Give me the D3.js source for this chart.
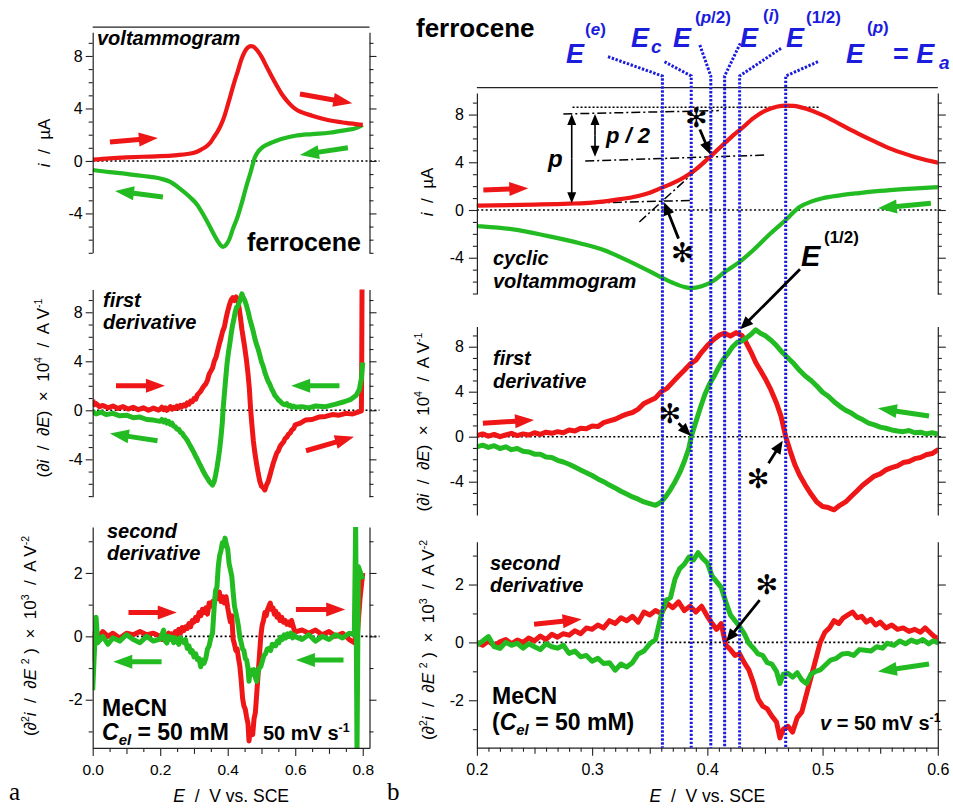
<!DOCTYPE html>
<html>
<head>
<meta charset="utf-8">
<script src="https://cdn.jsdelivr.net/npm/d3@7"></script>
<style>
  body { margin: 0; background: #fff; }
  svg { display: block; font-family: "Liberation Sans", Arial, sans-serif; }
  text { white-space: pre; }
</style>
</head>
<body>
<svg id="fig" width="953" height="808"></svg>
<script>
// ---------------- data ----------------
// cyclic voltammogram of ferrocene, forward (oxidation) scan, E / V vs. SCE and i / µA
const cvRedE = [0, 0.05, 0.1, 0.15, 0.2, 0.25, 0.28, 0.3, 0.32, 0.34, 0.35, 0.36, 0.37, 0.38, 0.39, 0.4, 0.41, 0.42, 0.43, 0.44, 0.45, 0.46, 0.468, 0.475, 0.485, 0.5, 0.515, 0.53, 0.545, 0.56, 0.58, 0.6, 0.62, 0.65, 0.7, 0.75, 0.8];
const cvRedI = [0.1, 0.2, 0.27, 0.32, 0.36, 0.45, 0.53, 0.62, 0.85, 1.18, 1.45, 1.85, 2.25, 2.75, 3.4, 4.25, 5.15, 6.05, 6.85, 7.7, 8.3, 8.65, 8.75, 8.72, 8.5, 7.95, 7.2, 6.45, 5.75, 5.1, 4.45, 3.97, 3.7, 3.45, 3.1, 2.9, 2.75];
// reverse (reduction) scan
const cvGreenE = [0, 0.05, 0.1, 0.15, 0.2, 0.23, 0.26, 0.29, 0.31, 0.33, 0.35, 0.36, 0.37, 0.38, 0.386, 0.395, 0.405, 0.415, 0.428, 0.44, 0.455, 0.468, 0.48, 0.49, 0.5, 0.515, 0.53, 0.55, 0.57, 0.6, 0.65, 0.7, 0.75, 0.78, 0.8];
const cvGreenI = [-0.69, -0.85, -0.98, -1.15, -1.34, -1.6, -2.15, -2.8, -3.35, -4.2, -5.15, -5.65, -6.1, -6.45, -6.55, -6.4, -5.95, -5.2, -4.35, -3.35, -1.95, -0.84, 0.25, 0.7, 0.98, 1.22, 1.4, 1.6, 1.75, 1.92, 2.05, 2.15, 2.35, 2.5, 2.75];

// first derivative, ×10^4 A/V (forward scan)
const d1RedE = [0, 0.004, 0.01, 0.02, 0.03, 0.045, 0.06, 0.075, 0.09, 0.105, 0.12, 0.135, 0.15, 0.165, 0.18, 0.195,
  0.2, 0.205, 0.21, 0.215, 0.22, 0.225, 0.23, 0.235, 0.24, 0.245, 0.25, 0.255, 0.26, 0.265, 0.27, 0.275, 0.28, 0.285, 0.29, 0.295,
  0.3, 0.305, 0.31, 0.315, 0.32, 0.325, 0.33, 0.335, 0.34, 0.345, 0.35, 0.355, 0.36, 0.365, 0.37, 0.375, 0.38, 0.385, 0.39, 0.395,
  0.4, 0.405, 0.41, 0.415, 0.42, 0.425, 0.43, 0.434, 0.438, 0.442, 0.446, 0.45, 0.455, 0.46, 0.464, 0.468, 0.472, 0.476, 0.48, 0.485, 0.49, 0.495,
  0.5, 0.505, 0.51, 0.515, 0.52, 0.525, 0.53, 0.535, 0.54, 0.545, 0.55, 0.555, 0.56, 0.565, 0.57, 0.575, 0.58, 0.585, 0.59, 0.595,
  0.6, 0.615, 0.63, 0.65, 0.67, 0.69, 0.71, 0.73, 0.75, 0.77, 0.79, 0.796, 0.797, 0.798];
const d1Red = [0.85, 0.45, 0.55, 0.3, 0.4, 0.2, 0.35, 0.15, 0.3, 0.1, 0.25, 0.05, 0.2, 0.0, 0.18, 0.02,
  0.1, 0.25, 0.05, 0.2, 0.0, 0.15, 0.3, 0.1, 0.25, 0.15, 0.35, 0.2, 0.4, 0.3, 0.45, 0.35, 0.6, 0.5, 0.75, 0.7,
  0.95, 0.9, 1.25, 1.4, 1.55, 1.8, 2.0, 2.15, 2.45, 2.95, 3.2, 3.45, 4.0, 4.3, 4.85, 5.4, 5.9, 6.45, 6.8, 7.5,
  8.1, 8.6, 9.0, 9.2, 8.95, 9.25, 9.0, 8.3, 7.5, 6.6, 5.9, 5.2, 4.2, 3.0, 1.8, 0.0, -1.3, -2.5, -3.4, -4.3, -5.1, -5.8,
  -6.2, -6.3, -6.5, -6.1, -5.8, -5.3, -4.8, -4.3, -3.9, -3.5, -3.3, -2.95, -2.75, -2.6, -2.3, -2.2, -1.95, -1.85, -1.6, -1.5,
  -1.18, -1.05, -0.8, -0.75, -0.55, -0.5, -0.35, -0.4, -0.25, -0.3, -0.1, -0.05, 4.0, 11.0];
// first derivative, reverse scan
const d1GreenE = [0, 0.01, 0.025, 0.04, 0.06, 0.08, 0.1, 0.12, 0.14, 0.16, 0.18,
  0.2, 0.205, 0.21, 0.215, 0.22, 0.225, 0.23, 0.235, 0.24, 0.245, 0.25, 0.255, 0.26, 0.265, 0.27, 0.275, 0.28, 0.285, 0.29, 0.295,
  0.3, 0.305, 0.31, 0.315, 0.32, 0.325, 0.33, 0.335, 0.34, 0.345, 0.35, 0.355, 0.36, 0.364, 0.368, 0.372, 0.376, 0.38, 0.384, 0.386,
  0.39, 0.394, 0.398, 0.402, 0.406, 0.41, 0.414, 0.418, 0.422, 0.426, 0.43, 0.434, 0.438, 0.442, 0.446, 0.45, 0.455, 0.46, 0.465, 0.47,
  0.475, 0.48, 0.485, 0.49, 0.495, 0.5, 0.505, 0.51, 0.515, 0.52, 0.525, 0.53, 0.535, 0.54, 0.545, 0.55, 0.555, 0.56, 0.565, 0.57,
  0.575, 0.58, 0.585, 0.59, 0.595, 0.6, 0.62, 0.64, 0.66, 0.69, 0.72, 0.745, 0.765, 0.78, 0.79, 0.796, 0.8];
const d1Green = [-0.1, -0.3, -0.15, -0.35, -0.25, -0.45, -0.4, -0.6, -0.55, -0.75, -0.8,
  -0.9, -0.75, -0.95, -0.8, -1.05, -0.9, -1.15, -1.05, -1.3, -1.35, -1.55, -1.55, -1.8, -1.85, -2.1, -2.25, -2.45, -2.7, -2.95, -3.2,
  -3.45, -3.75, -4.0, -4.3, -4.55, -4.85, -5.1, -5.35, -5.55, -5.8, -5.95, -6.1, -5.8, -5.3, -4.7, -4.0, -3.2, -2.2, -1.0, 0.0,
  1.3, 2.6, 3.8, 4.7, 5.4, 6.2, 6.9, 7.4, 8.0, 8.4, 8.5, 8.8, 9.1, 9.5, 9.2, 9.0, 8.6, 8.1, 7.5, 7.0,
  6.5, 5.9, 5.4, 5.0, 4.5, 3.95, 3.6, 3.1, 2.7, 2.35, 2.1, 1.75, 1.5, 1.2, 1.05, 0.85, 0.75, 0.6, 0.5, 0.45,
  0.55, 0.35, 0.4, 0.25, 0.35, 0.25, 0.3, 0.2, 0.35, 0.3, 0.5, 0.7, 0.9, 1.2, 1.7, 2.6, 3.9];

// second derivative, ×10^3 A/V^2 (forward scan)
const d2RedE = [0, 0.004, 0.015, 0.03, 0.045, 0.06, 0.08, 0.1, 0.12, 0.14, 0.16, 0.18,
  0.2, 0.205, 0.21, 0.215, 0.22, 0.225, 0.23, 0.235, 0.24, 0.245, 0.25, 0.255, 0.26, 0.265, 0.27, 0.275, 0.28, 0.285, 0.29, 0.295,
  0.3, 0.305, 0.31, 0.315, 0.32, 0.325, 0.33, 0.335, 0.34, 0.345, 0.35, 0.355, 0.36, 0.365, 0.37, 0.375, 0.38, 0.385, 0.39, 0.395,
  0.4, 0.404, 0.408, 0.412, 0.416, 0.42, 0.424, 0.428, 0.432, 0.436, 0.44, 0.444, 0.448, 0.452, 0.456, 0.46, 0.463, 0.466, 0.47, 0.474,
  0.478, 0.482, 0.486, 0.49, 0.494, 0.498, 0.502, 0.506, 0.51, 0.514, 0.518, 0.522, 0.526, 0.53, 0.534, 0.538, 0.542, 0.546, 0.55,
  0.555, 0.56, 0.565, 0.57, 0.575, 0.58, 0.585, 0.589, 0.593, 0.597,
  0.6, 0.62, 0.64, 0.66, 0.68, 0.7, 0.72, 0.74, 0.76, 0.775, 0.785, 0.792, 0.8];
const d2Red = [-0.8, 0.1, -0.05, 0.15, 0.0, 0.1, -0.05, 0.1, 0.05, 0.15, 0.05, 0.1,
  0.0, -0.1, 0.05, -0.12, 0.02, 0.1, -0.05, 0.08, 0.0, 0.15, 0.05, 0.22, 0.1, 0.28, 0.18, 0.3, 0.25, 0.4, 0.3, 0.5,
  0.45, 0.6, 0.5, 0.75, 0.65, 0.85, 0.75, 0.9, 0.7, 1.05, 0.95, 1.1, 1.0, 1.35, 1.2, 1.4, 1.1, 1.25, 1.05, 1.25,
  0.9, 0.66, 0.45, 0.65, -0.09, -0.25, -0.45, -0.4, -0.7, -0.95, -1.4, -1.95, -2.2, -2.3, -2.55, -2.75, -3.3, -3.0, -2.9, -3.1,
  -2.6, -2.4, -1.8, -1.2, -0.6, 0.0, 0.35, 0.5, 0.75, 0.65, 0.85, 0.95, 1.05, 0.85, 0.9, 0.7, 0.8, 0.6, 0.7,
  0.5, 0.6, 0.45, 0.5, 0.38, 0.45, 0.35, 0.5, 0.35, 0.2,
  0.14, 0.2, 0.1, 0.2, 0.05, 0.15, 0.0, 0.1, -0.1, -0.2, 0.2, 1.2, 2.0];
// second derivative, reverse scan
const d2GreenE = [0, 0.005, 0.01, 0.015, 0.03, 0.045, 0.06, 0.08, 0.1, 0.12, 0.14, 0.16, 0.18,
  0.2, 0.205, 0.21, 0.215, 0.22, 0.225, 0.23, 0.235, 0.24, 0.245, 0.25, 0.255, 0.26, 0.265, 0.27, 0.275, 0.28, 0.285, 0.29, 0.295,
  0.3, 0.305, 0.31, 0.315, 0.32, 0.325, 0.33, 0.335, 0.34, 0.345, 0.35, 0.355, 0.36, 0.364, 0.368, 0.372, 0.376, 0.38, 0.384, 0.388,
  0.392, 0.396, 0.4, 0.404, 0.408, 0.412, 0.416, 0.42, 0.424, 0.428, 0.432, 0.436, 0.44, 0.444, 0.448, 0.452, 0.456, 0.46, 0.463, 0.466,
  0.47, 0.474, 0.478, 0.482, 0.486, 0.49, 0.494, 0.498, 0.502, 0.507, 0.512, 0.517, 0.522, 0.527, 0.532, 0.537, 0.542, 0.547, 0.552,
  0.556, 0.562, 0.567, 0.572, 0.577, 0.582, 0.587, 0.592, 0.596,
  0.6, 0.62, 0.64, 0.66, 0.68, 0.7, 0.72, 0.74, 0.76, 0.775, 0.779, 0.783, 0.787, 0.8];
const d2Green = [-1.7, -0.5, 0.6, -0.2, 0.0, -0.25, -0.05, -0.15, 0.05, -0.1, -0.2, 0.0, -0.15,
  -0.09, 0.05, 0.2, -0.15, -0.21, 0.0, -0.1, -0.03, -0.2, -0.05, -0.15, -0.25, -0.05, -0.15, -0.2, -0.1, -0.38, -0.3, -0.5, -0.45,
  -0.65, -0.55, -0.73, -0.7, -0.96, -0.75, -0.85, -0.7, -0.4, -0.3, -0.05, 0.1, 0.95, 1.45, 1.55, 2.2, 2.55, 2.7, 2.95, 2.85,
  3.1, 2.9, 2.75, 2.3, 2.1, 1.9, 1.4, 0.95, 0.75, 0.55, 0.3, -0.03, -0.2, -0.4, -0.45, -0.7, -0.75, -1.0, -1.42, -1.1,
  -1.07, -1.2, -1.05, -1.3, -1.42, -1.1, -1.0, -0.95, -0.8, -0.61, -0.55, -0.4, -0.38, -0.45, -0.25, -0.27, -0.3, -0.15, -0.2,
  -0.03, -0.1, 0.05, -0.05, 0.08, 0.0, 0.1, -0.05, 0.05,
  -0.01, -0.1, 0.05, -0.15, 0.0, -0.1, 0.05, -0.05, 0.1, 0.05, 3.6, -3.7, 2.2, 1.8];

// characteristic potentials marked in panel b
const markerE = [0.361, 0.386, 0.403, 0.415, 0.428, 0.468];

// tick labels
const xTickLabelsA = [0, 0.2, 0.4, 0.6, 0.8];
const xTickLabelsB = [0.2, 0.3, 0.4, 0.5, 0.6];
const yTickLabelsCurrent = [-4, 0, 4, 8];
const yTickLabelsFirst = [-4, 0, 4, 8];
const yTickLabelsSecond = [-2, 0, 2];

// ---------------- scales ----------------
const RED = "#ee1616", GREEN = "#22bb22", BLUE = "#1c1cdc", INK = "#000";
const xA = d3.scaleLinear([0, 0.82], [92.7, 369.5]);
const xB = d3.scaleLinear([0.2, 0.6], [476.9, 937.8]);

const plots = {
  a1: { x: xA, y: d3.scaleLinear([-7, 10.2], [252.8, 27.1]), axisTop: 9.8, minor: d3.range(-7, 10), major: yTickLabelsCurrent, tl: 7, pad: 3, fs: 16 },
  a2: { x: xA, y: d3.scaleLinear([-7.05, 9.85], [496.7, 289.6]), axisTop: 9.85, minor: d3.range(-7, 10), major: yTickLabelsFirst, tl: 7, pad: 3, fs: 16 },
  a3: { x: xA, y: d3.scaleLinear([-3.52, 3.45], [747.9, 527]), axisTop: 3.45, minor: d3.range(-3, 4), major: yTickLabelsSecond, tl: 7, pad: 3, fs: 16 },
  b1: { x: xB, y: d3.scaleLinear([-7.04, 10.25], [294, 87.7]), axisTop: 9.8, minor: d3.range(-7, 10), major: yTickLabelsCurrent, tl: 8, pad: 5, fs: 16 },
  b2: { x: xB, y: d3.scaleLinear([-6.96, 9.8], [515, 326.45]), axisTop: 9.8, minor: d3.range(-6, 10), major: yTickLabelsFirst, tl: 8, pad: 5, fs: 16 },
  b3: { x: xB, y: d3.scaleLinear([-3.64, 3.48], [747.7, 541.7]), axisTop: 3.48, minor: d3.range(-3, 4), major: yTickLabelsSecond, tl: 8, pad: 5, fs: 16 }
};

const svg = d3.select("#fig");
const defs = svg.append("defs");
const gZero = svg.append("g");
const gAnnoBack = svg.append("g");
const gCurves = svg.append("g");
const gAxes = svg.append("g");
const gMarkers = svg.append("g");
const gText = svg.append("g");

Object.entries(plots).forEach(([k, p]) => {
  const [x0, x1] = p.x.range(), [yb, yt] = p.y.range();
  defs.append("clipPath").attr("id", "clip-" + k).append("rect")
    .attr("x", x0).attr("y", yt).attr("width", x1 - x0).attr("height", yb - yt);
});

// ---------------- helpers ----------------
const pairs = (E, V) => E.map((e, i) => [e, V[i]]);

function curve(k, E, V, color, width, interp) {
  const p = plots[k];
  const line = d3.line().x(d => p.x(d[0])).y(d => p.y(d[1])).curve(interp || d3.curveLinear);
  gCurves.append("path").attr("d", line(pairs(E, V)))
    .attr("clip-path", `url(#clip-${k})`)
    .attr("fill", "none").attr("stroke", color).attr("stroke-width", width)
    .attr("stroke-linejoin", "round").attr("stroke-linecap", "butt");
}

function arrowPoly(g, x1, y1, x2, y2, color, w, hl, hw) {
  const dx = x2 - x1, dy = y2 - y1, L = Math.hypot(dx, dy);
  const ux = dx / L, uy = dy / L, nx = -uy, ny = ux;
  const bx = x2 - ux * hl, by = y2 - uy * hl;
  const pts = [
    [x1 + nx * w / 2, y1 + ny * w / 2], [bx + nx * w / 2, by + ny * w / 2], [bx + nx * hw, by + ny * hw],
    [x2, y2], [bx - nx * hw, by - ny * hw], [bx - nx * w / 2, by - ny * w / 2], [x1 - nx * w / 2, y1 - ny * w / 2]
  ];
  g.append("polygon").attr("points", pts.map(q => q.join(",")).join(" ")).attr("fill", color);
}

// arrow between two points given in plot coordinates (plot key, E, value)
function arrowPlot(g, a, b, color, w, hl, hw) {
  const pa = plots[a[0]], pb = plots[b[0]];
  arrowPoly(g, pa.x(a[1]), pa.y(a[2]), pb.x(b[1]), pb.y(b[2]), color, w, hl, hw);
}

function doubleArrow(g, k, e, v1, v2) {
  const p = plots[k];
  const x = p.x(e), y1 = p.y(v1), y2 = p.y(v2), ym = (y1 + y2) / 2;
  arrowPoly(g, x, ym, x, y1, INK, 1.6, 11, 4.5);
  arrowPoly(g, x, ym, x, y2, INK, 1.6, 11, 4.5);
}

function rich(g, x, y, size, parts, o = {}) {
  const t = g.append("text").attr("x", x).attr("y", y).attr("font-size", size)
    .attr("font-weight", o.weight || "normal").attr("fill", o.fill || INK);
  if (o.anchor) t.attr("text-anchor", o.anchor);
  if (o.transform) t.attr("transform", o.transform);
  if (o.family) t.attr("font-family", o.family);
  let shift = 0;
  parts.forEach(([s, st = ""]) => {
    const ts = t.append("tspan").text(s);
    let target = 0, fs = size;
    if (st.includes("sup")) { target = -size * 0.42; fs = size * 0.62; }
    if (st.includes("sub")) { target = size * 0.22; fs = size * 0.65; }
    ts.attr("dy", target - shift).attr("font-size", fs);
    shift = target;
    if (st.includes("it")) ts.attr("font-style", "italic");
  });
  return t;
}

// ---------------- axes ----------------
function styleAxis(sel, fs) {
  sel.attr("font-family", null).attr("font-size", fs);
  sel.selectAll("path.domain").attr("stroke", "#222").attr("stroke-width", 1.2);
  sel.selectAll(".tick line").attr("stroke", "#222").attr("stroke-width", 1.1);
  sel.selectAll(".tick text").attr("fill", INK);
}

Object.entries(plots).forEach(([k, p]) => {
  const lo = p.y.domain()[0];
  const ys = p.y.copy().domain([lo, p.axisTop]).range([p.y(lo), p.y(p.axisTop)]);
  const [x0, x1] = p.x.range();
  const minorOnly = p.minor.filter(v => !p.major.includes(v));
  // left axis
  const gl = gAxes.append("g").attr("transform", `translate(${x0},0)`);
  gl.append("g").call(d3.axisLeft(ys).tickValues(minorOnly).tickSize(4).tickFormat("")).call(s => s.select(".domain").remove()).call(s => styleAxis(s, p.fs));
  gl.append("g").call(d3.axisLeft(ys).tickValues(p.major).tickSize(p.tl).tickSizeOuter(0).tickPadding(p.pad).tickFormat(d => String(d))).call(s => styleAxis(s, p.fs));
  // mirrored right axis
  const gr = gAxes.append("g").attr("transform", `translate(${x1},0)`);
  gr.append("g").call(d3.axisRight(ys).tickValues(minorOnly).tickSize(4).tickFormat("")).call(s => s.select(".domain").remove()).call(s => styleAxis(s, p.fs));
  gr.append("g").call(d3.axisRight(ys).tickValues(p.major).tickSize(p.tl).tickSizeOuter(0).tickFormat("")).call(s => styleAxis(s, p.fs));
  // zero line
  gZero.append("line").attr("x1", x0).attr("x2", x1 + (k[0] === "a" ? 10 : 3))
    .attr("y1", p.y(0)).attr("y2", p.y(0))
    .attr("stroke", INK).attr("stroke-width", 1.6).attr("stroke-dasharray", "2,2.4");
});

// top frame of each panel
["a1", "b1"].forEach(k => {
  const p = plots[k];
  gAxes.append("line").attr("x1", p.x.range()[0]).attr("x2", p.x.range()[1])
    .attr("y1", p.y.range()[1]).attr("y2", p.y.range()[1]).attr("stroke", "#222").attr("stroke-width", 1.2);
});

// bottom energy axes
function bottomAxis(k, minor, mid, labels, fs) {
  const p = plots[k];
  const g = gAxes.append("g").attr("transform", `translate(0,${p.y.range()[0]})`);
  g.append("g").call(d3.axisBottom(p.x).tickValues(minor).tickSize(4).tickFormat("")).call(s => s.select(".domain").remove()).call(s => styleAxis(s, fs));
  g.append("g").call(d3.axisBottom(p.x).tickValues(mid).tickSize(6).tickFormat("")).call(s => s.select(".domain").remove()).call(s => styleAxis(s, fs));
  g.append("g").call(d3.axisBottom(p.x).tickValues(labels).tickSize(8).tickSizeOuter(0).tickPadding(8).tickFormat(d3.format(".1f"))).call(s => styleAxis(s, fs));
}
bottomAxis("a3", d3.range(0.05, 0.8, 0.1), d3.range(0.1, 0.8, 0.2), xTickLabelsA, 15.5);
bottomAxis("b3", d3.range(0.2, 0.6001, 0.01).filter(v => Math.abs(v * 20 - Math.round(v * 20)) > 1e-6), d3.range(0.25, 0.6, 0.1), xTickLabelsB, 16);

// ---------------- curves ----------------
["a1", "b1"].forEach(k => {
  curve(k, cvGreenE, cvGreenI, GREEN, 4.2, d3.curveMonotoneX);
  curve(k, cvRedE, cvRedI, RED, 4.2, d3.curveMonotoneX);
});
["a2", "b2"].forEach(k => {
  curve(k, d1RedE, d1Red, RED, 5);
  curve(k, d1GreenE, d1Green, GREEN, 5);
});
["a3", "b3"].forEach(k => {
  curve(k, d2RedE, d2Red, RED, 5);
  curve(k, d2GreenE, d2Green, GREEN, 5);
});

// ---------------- construction lines in panel b (top plot) ----------------
function seg(k, e1, v1, e2, v2, dash, w = 1.5) {
  const p = plots[k];
  gAnnoBack.append("line").attr("x1", p.x(e1)).attr("y1", p.y(v1)).attr("x2", p.x(e2)).attr("y2", p.y(v2))
    .attr("stroke", INK).attr("stroke-width", w).attr("stroke-dasharray", dash);
}
const dashDot = "9,3,2,3";
seg("b1", 0.2, 0.35, 0.385, 0.8, dashDot);          // baseline
seg("b1", 0.341, -1.0, 0.431, 6.9, dashDot);        // inflection tangent
seg("b1", 0.283, 8.61, 0.4975, 8.61, "2,2");        // peak level
seg("b1", 0.275, 8.05, 0.41, 8.33, dashDot);        // p level
seg("b1", 0.294, 4.1, 0.4516, 4.61, dashDot);       // p/2 level

// ---------------- blue marker lines ----------------
const leaderTop = 76;
const leaderEnds = [[608, 56.7], [664.5, 61.7], [699.8, 45], [740.3, 43.3], [781, 48.3], [818, 61.7]];
markerE.forEach((e, i) => {
  const x = xB(e);
  gMarkers.append("path")
    .attr("d", `M${leaderEnds[i][0]},${leaderEnds[i][1]}L${x},${leaderTop}L${x},${plots.b3.y.range()[0]}`)
    .attr("fill", "none").attr("stroke", BLUE).attr("stroke-width", 3).attr("stroke-dasharray", "2.4,1.6");
});

// blue labels
const blueE = (x, y) => rich(gText, x, y, 27, [["E", "it"]], { weight: "bold", fill: BLUE });
const blueS = (x, y, parts, fs = 17) => rich(gText, x, y, fs, parts, { weight: "bold", fill: BLUE });
blueE(566, 63); blueS(585, 35, [["(", ""], ["e", "it"], [")", ""]]);
blueE(631, 47); blueS(651, 53, [["c", "it"]], 19);
blueE(673, 47); blueS(695, 23, [["(", ""], ["p", "it"], ["/2)", ""]]);
blueE(740, 47); blueS(763, 21, [["(", ""], ["i", "it"], [")", ""]]);
blueE(786, 47); blueS(806, 23, [["(1/2)", ""]]);
blueE(846, 63); blueS(867, 33, [["(", ""], ["p", "it"], [")", ""]]);
rich(gText, 893, 63, 27, [["= ", ""], ["E", "it"]], { weight: "bold", fill: BLUE });
blueS(939, 69, [["a", "it"]], 19);

// ---------------- black annotations ----------------
doubleArrow(gText, "b1", 0.2823, 8.05, 0.56);
doubleArrow(gText, "b1", 0.3025, 8.05, 4.47);
rich(gText, 548, 167, 24, [["p", "it"]], { weight: "bold" });
rich(gText, 606, 143, 22, [["p", "it"], [" / 2", "it"]], { weight: "bold" });

const star = (k, e, v) => gText.append("text").attr("x", plots[k].x(e)).attr("y", plots[k].y(v))
  .attr("text-anchor", "middle").attr("dominant-baseline", "central")
  .attr("font-family", "DejaVu Sans").attr("font-size", 27).attr("fill", INK).text("\u273B");
const blackArrow = (a, b) => arrowPlot(gText, a, b, INK, 2.8, 13, 5.5);

star("b1", 0.3904, 7.75); blackArrow(["b1", 0.3935, 6.75], ["b1", 0.4026, 4.65]);
star("b1", 0.3782, -3.55); blackArrow(["b1", 0.375, -2.4], ["b1", 0.3625, 0.65]);
star("b2", 0.3674, 2.1); blackArrow(["b2", 0.375, 1.19], ["b2", 0.3858, 0.06]);
star("b2", 0.444, -3.75); blackArrow(["b2", 0.4531, -2.37], ["b2", 0.4654, -0.36]);
star("b3", 0.4516, 2.0); blackArrow(["b3", 0.4454, 1.46], ["b3", 0.4163, 0.02]);
blackArrow(["b1", 0.4804, -4.97], ["b2", 0.4285, 9.55]);
rich(gText, 801, 266, 29, [["E", "it"]], { weight: "bold" });
rich(gText, 824, 243, 17, [["(1/2)", ""]], { weight: "bold" });

// ---------------- scan-direction arrows ----------------
const fat = (k, e1, v1, e2, v2, color) => arrowPlot(gText, [k, e1, v1], [k, e2, v2], color, 5, 19, 7);
fat("a1", 0.051, 1.45, 0.193, 1.75, RED);
fat("a1", 0.614, 5.1, 0.769, 4.4, RED);
fat("a1", 0.756, 1.0, 0.614, 0.46, GREEN);
fat("a1", 0.208, -2.74, 0.066, -2.29, GREEN);
fat("a2", 0.069, 2.0, 0.214, 2.0, RED);
fat("a2", 0.731, 2.0, 0.588, 2.0, GREEN);
fat("a2", 0.192, -2.49, 0.051, -1.89, GREEN);
fat("a2", 0.632, -3.3, 0.774, -2.16, RED);
fat("a3", 0.106, 0.75, 0.249, 0.75, RED);
fat("a3", 0.602, 0.85, 0.748, 0.85, RED);
fat("a3", 0.204, -0.8, 0.061, -0.8, GREEN);
fat("a3", 0.743, -0.75, 0.602, -0.75, GREEN);
fat("b1", 0.2056, 1.68, 0.2446, 1.82, RED);
fat("b1", 0.594, 0.56, 0.548, 0.14, GREEN);
fat("b2", 0.2052, 1.19, 0.2496, 1.48, RED);
fat("b2", 0.5924, 1.84, 0.548, 2.52, GREEN);
fat("b3", 0.2496, 0.63, 0.2909, 0.8, RED);
fat("b3", 0.5924, -0.75, 0.548, -1.01, GREEN);

// ---------------- texts ----------------
const bi = { weight: "bold" };
rich(gText, 97, 45, 20, [["voltammogram", "it"]], bi);
rich(gText, 247, 251, 25, [["ferrocene", ""]], bi);
rich(gText, 103, 307, 20, [["first", "it"]], bi);
rich(gText, 103, 329, 20, [["derivative", "it"]], bi);
rich(gText, 107, 538, 20, [["second", "it"]], bi);
rich(gText, 107, 560, 20, [["derivative", "it"]], bi);
rich(gText, 102, 716, 23, [["MeCN", ""]], bi);
rich(gText, 102, 740, 23, [["C", "it"], ["el", "it sub"], [" = 50 mM", ""]], bi);
rich(gText, 263, 740, 20, [["50 mV s", ""], ["-1", "sup"]], bi);

rich(gText, 416, 37, 26, [["ferrocene", ""]], bi);
rich(gText, 493, 265, 20, [["cyclic", "it"]], bi);
rich(gText, 493, 288, 20, [["voltammogram", "it"]], bi);
rich(gText, 493, 365, 20, [["first", "it"]], bi);
rich(gText, 493, 388, 20, [["derivative", "it"]], bi);
rich(gText, 490, 570, 20, [["second", "it"]], bi);
rich(gText, 490, 592, 20, [["derivative", "it"]], bi);
rich(gText, 492, 704, 23, [["MeCN", ""]], bi);
rich(gText, 492, 730, 23, [["(", ""], ["C", "it"], ["el", "it sub"], [" = 50 mM)", ""]], bi);
rich(gText, 820, 730, 20, [["v", "it"], [" = 50 mV s", ""], ["-1", "sup"]], bi);

// axis titles
const yTitle = (x, y, parts) => rich(gText, x, y, 17, parts, { anchor: "middle", transform: `rotate(-90,${x},${y})` });
const currentTitle = [["i", "it"], ["  /  µA", ""]];
const firstTitle = [["(∂", ""], ["i", "it"], ["  /  ∂", ""], ["E", "it"], [")  ×  10", ""], ["4", "sup"], ["  /  A V", ""], ["-1", "sup"]];
const secondTitle = [["(∂", ""], ["2", "sup"], ["i", "it"], ["  /  ∂", ""], ["E", "it"], [" ", ""], ["2", "sup"], [" )  ×  10", ""], ["3", "sup"], ["  /  A V", ""], ["-2", "sup"]];
yTitle(50, 143, currentTitle);
yTitle(49, 388, firstTitle);
yTitle(36, 636, secondTitle);
yTitle(433, 192, currentTitle);
yTitle(429, 422, firstTitle);
yTitle(434, 640, secondTitle);

const xTitle = [["E", "it"], ["  /  V vs. SCE", ""]];
rich(gText, xA(0.41), 802, 17.5, xTitle, { anchor: "middle" });
rich(gText, xB(0.4), 802, 17.5, xTitle, { anchor: "middle" });

// panel letters
rich(gText, 9, 800, 25, [["a", ""]], { family: "Liberation Serif, Times New Roman, serif" });
rich(gText, 387, 800, 25, [["b", ""]], { family: "Liberation Serif, Times New Roman, serif" });
</script>
</body>
</html>
